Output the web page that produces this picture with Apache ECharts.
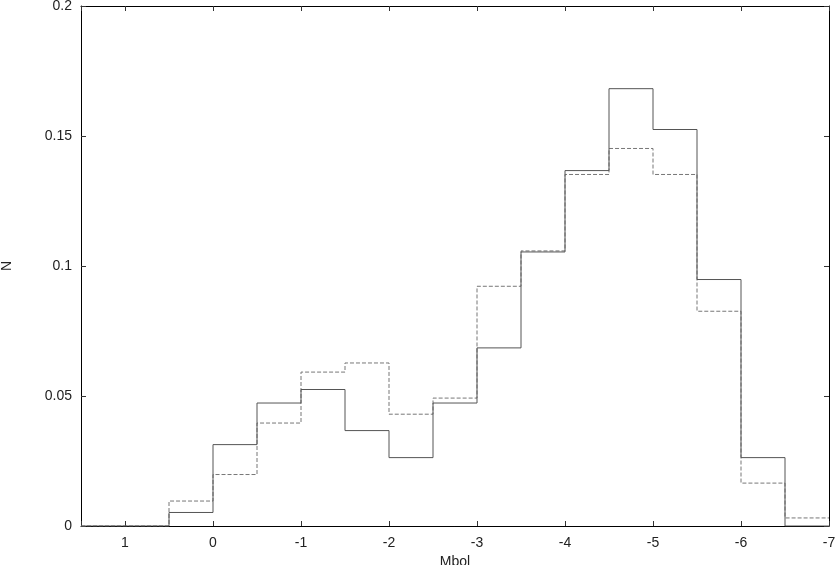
<!DOCTYPE html>
<html>
<head>
<meta charset="utf-8">
<script src="https://cdn.jsdelivr.net/npm/echarts@6/dist/echarts.min.js"></script>
<style>
  html, body { margin: 0; padding: 0; background: #fff; }
  #chart { width: 835px; height: 565px; }
</style>
</head>
<body>
<div id="chart"></div>
<script>
// bin edges of the histogram (Mbol), left to right as plotted
var binEdges = [1.5, 1, 0.5, 0, -0.5, -1, -1.5, -2, -2.5, -3, -3.5, -4, -4.5, -5, -5.5, -6, -6.5, -7];
// normalised counts per bin
var solidValues = [0, 0, 0.0052, 0.0313, 0.0473, 0.0525, 0.0367, 0.0263, 0.0473, 0.0685, 0.1054, 0.1367, 0.1682, 0.1525, 0.0948, 0.0263, 0];
var dashedValues = [0, 0, 0.0096, 0.0198, 0.0396, 0.0592, 0.0627, 0.0430, 0.0492, 0.0922, 0.1058, 0.1352, 0.1452, 0.1352, 0.0826, 0.0165, 0.0031];
var yTicks = [0, 0.05, 0.1, 0.15, 0.2];

// turn bin values into step outline points
function stepPoints(values) {
  var pts = [];
  values.forEach(function (v, i) {
    pts.push([binEdges[i], v]);
    pts.push([binEdges[i + 1], v]);
  });
  return pts;
}

var chart = echarts.init(document.getElementById('chart'));
var font = 'Liberation Sans, Arial, sans-serif';

var option = {
  animation: false,
  backgroundColor: '#fff',
  grid: { left: 81, right: 6, top: 6, bottom: 39, containLabel: false, outerBoundsMode: 'none' },
  xAxis: [
    {
      type: 'value',
      inverse: true,
      min: -7,
      max: 1.5,
      interval: 1,
      name: 'Mbol',
      nameLocation: 'middle',
      nameGap: 25,
      nameTextStyle: { fontFamily: font, fontSize: 14, color: '#222' },
      axisLine: { onZero: false, lineStyle: { color: '#000', width: 1 } },
      axisTick: { inside: true, length: 5, lineStyle: { color: '#333' } },
      axisLabel: {
        fontFamily: font, fontSize: 14, color: '#222', margin: 10,
        formatter: function (v) { return Number.isInteger(v) ? String(v) : ''; }
      },
      splitLine: { show: false }
    },
    {
      type: 'value',
      position: 'top',
      inverse: true,
      min: -7,
      max: 1.5,
      interval: 1,
      axisLine: { onZero: false, lineStyle: { color: '#000', width: 1 } },
      axisTick: { inside: true, length: 5, lineStyle: { color: '#333' } },
      axisLabel: { show: false },
      splitLine: { show: false }
    }
  ],
  yAxis: [
    {
      type: 'value',
      min: yTicks[0],
      max: yTicks[yTicks.length - 1],
      interval: 0.05,
      name: 'N',
      nameLocation: 'middle',
      nameRotate: 90,
      nameGap: 67,
      nameTextStyle: { fontFamily: font, fontSize: 14, color: '#222' },
      axisLine: { show: true, onZero: false, lineStyle: { color: '#000', width: 1 } },
      axisTick: { show: true, inside: true, length: 5, lineStyle: { color: '#333' } },
      axisLabel: { fontFamily: font, fontSize: 14, color: '#222', margin: 9 },
      splitLine: { show: false }
    },
    {
      type: 'value',
      position: 'right',
      min: yTicks[0],
      max: yTicks[yTicks.length - 1],
      interval: 0.05,
      axisLine: { show: true, onZero: false, lineStyle: { color: '#000', width: 1 } },
      axisTick: { show: true, inside: true, length: 5, lineStyle: { color: '#333' } },
      axisLabel: { show: false },
      splitLine: { show: false }
    }
  ],
  series: [
    {
      name: 'solid',
      type: 'line',
      data: stepPoints(solidValues),
      showSymbol: false,
      lineStyle: { color: '#555', width: 1 },
      z: 3
    },
    {
      name: 'dashed',
      type: 'line',
      data: stepPoints(dashedValues),
      showSymbol: false,
      lineStyle: { color: '#777', width: 1, type: [4, 2] },
      z: 2
    }
  ]
};
option && chart.setOption(option);
</script>
</body>
</html>
